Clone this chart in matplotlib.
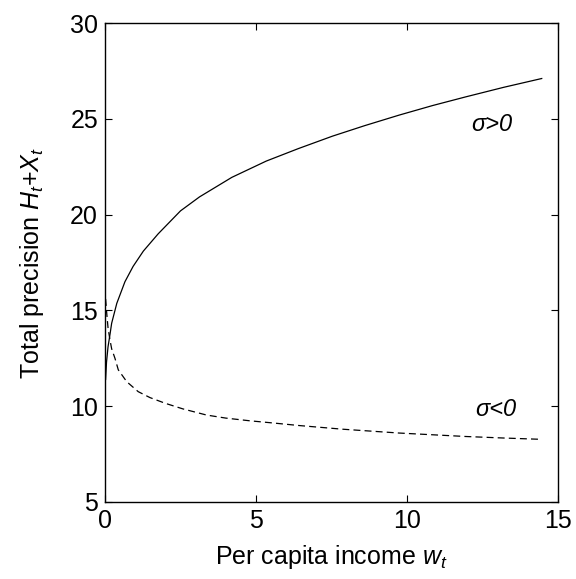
import matplotlib
matplotlib.use("Agg")
import matplotlib.pyplot as plt

# Data
solid_w = [0.02, 0.05, 0.1, 0.17, 0.22, 0.39, 0.66, 0.93, 1.27, 1.76, 2.5, 3.13, 4.2, 5.34, 6.4, 7.53, 8.6, 9.74, 10.85, 11.94, 13.2, 14.46]
solid_h = [11.4, 12.3, 13.1, 13.8, 14.33, 15.37, 16.5, 17.3, 18.1, 19.0, 20.2, 20.93, 21.95, 22.8, 23.45, 24.1, 24.65, 25.2, 25.7, 26.15, 26.65, 27.11]

dash_w = [0.02, 0.06, 0.1, 0.16, 0.22, 0.33, 0.44, 0.72, 1.1, 1.49, 2.0, 2.58, 3.36, 4.0, 4.79, 5.6, 6.44, 7.87, 9.74, 11.94, 13.2, 14.47]
dash_h = [15.6, 14.8, 14.1, 13.5, 13.0, 12.5, 11.9, 11.28, 10.76, 10.45, 10.15, 9.86, 9.54, 9.38, 9.24, 9.12, 8.99, 8.8, 8.6, 8.42, 8.34, 8.27]

xticks = [0, 5, 10, 15]
yticks = [5, 10, 15, 20, 25, 30]
label_pos = 'σ>0'
label_neg = 'σ<0'

plt.rcParams['font.family'] = ['Liberation Sans', 'DejaVu Sans']
plt.rcParams['mathtext.fontset'] = 'custom'
plt.rcParams['mathtext.rm'] = 'Liberation Sans'
plt.rcParams['mathtext.it'] = 'Liberation Sans:italic'
plt.rcParams['lines.scale_dashes'] = False

fig = plt.figure(figsize=(5.76, 5.79), dpi=100)
ax = fig.add_axes([0.1823, 0.133, 0.7865, 0.827])

ax.plot(solid_w, solid_h, color='black', lw=0.9, linestyle='-')
ax.plot(dash_w, dash_h, color='black', lw=0.9, linestyle='--', dashes=(5, 3))

ax.set_xlim(0, 15)
ax.set_ylim(5, 30)
ax.set_xticks(xticks)
ax.set_yticks(yticks)
ax.tick_params(direction='in', length=5, width=0.8, top=True, right=True,
               labelsize=18, pad=5)
for s in ax.spines.values():
    s.set_linewidth(1.0)

ax.set_xlabel(r'Per capita income $w_t$', fontsize=18)
ax.set_ylabel(r'Total precision $H_t$+$X_t$', fontsize=18)
ax.xaxis.set_label_coords(0.5, -0.085)
ax.yaxis.set_label_coords(-0.13, 0.5)

ax.text(12.8, 24.73, label_pos, fontsize=17, style='italic', ha='center', va='center')
ax.text(12.93, 9.85, label_neg, fontsize=17, style='italic', ha='center', va='center')

fig.savefig('out.png', dpi=100)
